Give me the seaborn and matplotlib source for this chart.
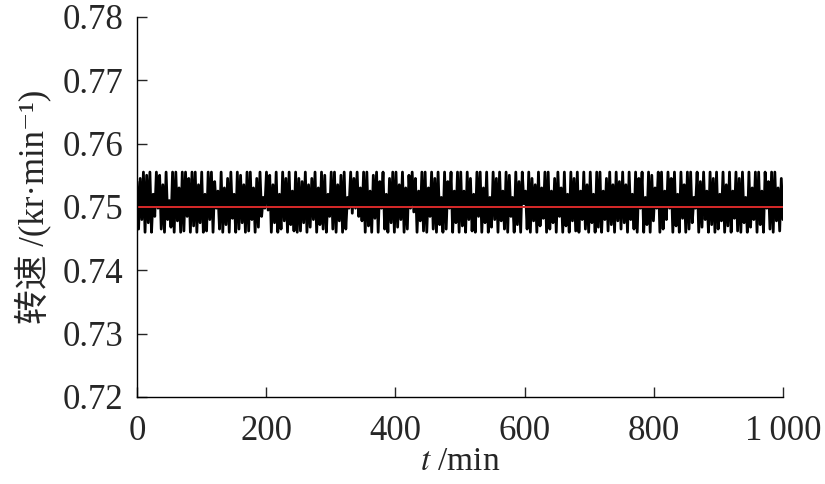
import numpy as np
import pandas as pd
import matplotlib
matplotlib.use("Agg")
import matplotlib.pyplot as plt
from matplotlib.ticker import FuncFormatter
import seaborn as sns

speed_hi = [
    0.754, 0.7545, 0.7555, 0.755, 0.7555, 0.752, 0.7555, 0.755, 0.7535, 0.7555,
    0.751, 0.7555, 0.7555, 0.753, 0.7555, 0.7555, 0.7545, 0.7555, 0.7555, 0.7535,
    0.7555, 0.752, 0.7555, 0.7555, 0.754, 0.7525, 0.7555, 0.753, 0.7545, 0.7555,
    0.752, 0.7555, 0.755, 0.7535, 0.7555, 0.7555, 0.753, 0.7545, 0.7555, 0.7515,
    0.7555, 0.755, 0.7535, 0.7555, 0.752, 0.7555, 0.7545, 0.7555, 0.7525, 0.7555,
    0.7545, 0.754, 0.7555, 0.7535, 0.7545, 0.7555, 0.753, 0.7555, 0.755, 0.752,
    0.7555, 0.7555, 0.7535, 0.755, 0.7555, 0.7515, 0.7555, 0.7545, 0.7555, 0.753,
    0.7555, 0.7555, 0.7525, 0.755, 0.7555, 0.754, 0.7555, 0.752, 0.7545, 0.7555,
    0.7555, 0.7535, 0.7555, 0.753, 0.755, 0.7555, 0.7545, 0.7525, 0.7555, 0.7555,
    0.753, 0.7555, 0.7545, 0.7555, 0.7515, 0.7555, 0.754, 0.7555, 0.7525, 0.7555,
    0.7555, 0.7525, 0.7555, 0.7545, 0.752, 0.7555, 0.7555, 0.753, 0.7555, 0.7515,
    0.7555, 0.7545, 0.7555, 0.7525, 0.7555, 0.755, 0.7515, 0.7555, 0.754, 0.7555,
    0.7525, 0.7555, 0.7545, 0.7535, 0.7555, 0.753, 0.7555, 0.7555, 0.7525, 0.7545,
    0.7555, 0.753, 0.7555, 0.752, 0.7555, 0.7545, 0.7555, 0.7525, 0.7555, 0.7535,
    0.7555, 0.752, 0.7555, 0.7555, 0.7525, 0.7545, 0.7555, 0.7535, 0.7555, 0.754,
    0.7555, 0.7535, 0.7555, 0.752, 0.7555, 0.7545, 0.7555, 0.7515, 0.7555, 0.755,
    0.753, 0.7555, 0.7555, 0.7525, 0.7555, 0.7545, 0.7555, 0.752, 0.7555, 0.7535,
    0.7555, 0.7555, 0.7515, 0.7555, 0.754, 0.7555, 0.7525, 0.7555, 0.7545, 0.7555,
    0.752, 0.7555, 0.7535, 0.7555, 0.7525, 0.7555, 0.7545, 0.7555, 0.7515, 0.7555,
    0.753, 0.7555, 0.7555, 0.7525, 0.7555, 0.754, 0.7555, 0.7555, 0.753, 0.7545,
]
speed_lo = [
    0.7465, 0.748, 0.746, 0.7475, 0.746, 0.7485, 0.7498, 0.7465, 0.746, 0.748,
    0.7468, 0.746, 0.7478, 0.746, 0.7462, 0.7485, 0.746, 0.747, 0.746, 0.7475,
    0.746, 0.7462, 0.748, 0.746, 0.7498, 0.7465, 0.746, 0.7472, 0.746, 0.7482,
    0.746, 0.7465, 0.7475, 0.746, 0.7462, 0.748, 0.746, 0.7468, 0.7485, 0.7498,
    0.7495, 0.746, 0.7475, 0.746, 0.7465, 0.7478, 0.746, 0.7472, 0.7462, 0.746,
    0.7462, 0.7475, 0.746, 0.7468, 0.748, 0.746, 0.7472, 0.7465, 0.746, 0.7485,
    0.7465, 0.746, 0.7478, 0.746, 0.7465, 0.7498, 0.749, 0.7498, 0.7485, 0.7478,
    0.746, 0.747, 0.746, 0.7482, 0.746, 0.7498, 0.7465, 0.746, 0.7475, 0.746,
    0.7468, 0.748, 0.746, 0.7465, 0.7498, 0.7492, 0.746, 0.7478, 0.7462, 0.746,
    0.7485, 0.7465, 0.746, 0.7472, 0.746, 0.7465, 0.7498, 0.746, 0.7475, 0.746,
    0.747, 0.746, 0.748, 0.7462, 0.746, 0.7485, 0.746, 0.7475, 0.746, 0.7468,
    0.748, 0.746, 0.7478, 0.7465, 0.746, 0.7485, 0.746, 0.7472, 0.746, 0.7505,
    0.7465, 0.746, 0.7478, 0.746, 0.747, 0.7482, 0.746, 0.7465, 0.7475, 0.746,
    0.7485, 0.746, 0.747, 0.746, 0.7478, 0.7462, 0.746, 0.748, 0.7465, 0.746,
    0.7475, 0.746, 0.7468, 0.746, 0.748, 0.7462, 0.7472, 0.746, 0.7478, 0.7465,
    0.7475, 0.746, 0.748, 0.7465, 0.746, 0.7498, 0.746, 0.7472, 0.746, 0.7478,
    0.7498, 0.746, 0.7465, 0.748, 0.7498, 0.746, 0.747, 0.746, 0.7482, 0.746,
    0.7465, 0.7475, 0.7498, 0.746, 0.7468, 0.748, 0.746, 0.7472, 0.746, 0.7465,
    0.7478, 0.746, 0.747, 0.746, 0.7482, 0.7462, 0.746, 0.7475, 0.746, 0.7468,
    0.748, 0.746, 0.7472, 0.746, 0.7498, 0.7465, 0.746, 0.7478, 0.7462, 0.748,
]
speed_ref = 0.750          # reference speed (red line)
t_range = (0, 1000)        # min

x_ticks = [0, 200, 400, 600, 800, 1000]
y_ticks = [0.72, 0.73, 0.74, 0.75, 0.76, 0.77, 0.78]

# interleave envelope samples -> measured trace
n = min(len(speed_hi), len(speed_lo))
speed = np.empty(2 * n)
speed[0::2] = speed_hi[:n]
speed[1::2] = speed_lo[:n]
df = pd.DataFrame({"t": np.linspace(t_range[0], t_range[1], 2 * n), "speed": speed})
ref = pd.DataFrame({"t": list(t_range), "speed": [speed_ref, speed_ref]})

sns.set_style("ticks")
plt.rcParams["font.family"] = ["Liberation Serif", "Noto Sans CJK SC", "DejaVu Serif"]
plt.rcParams["mathtext.fontset"] = "stix"

fig = plt.figure(figsize=(8.25, 4.84), dpi=100)
ax = fig.add_axes([0.166, 0.180, 0.783, 0.785])

sns.lineplot(data=df, x="t", y="speed", color="black", linewidth=2.0,
             estimator=None, sort=False, ax=ax)
sns.lineplot(data=ref, x="t", y="speed", color="#d82a2a", linewidth=1.4,
             estimator=None, ax=ax)

ax.set_xlim(*t_range)
ax.set_ylim(y_ticks[0], y_ticks[-1])
ax.set_xticks(x_ticks)
ax.set_yticks(y_ticks)
ax.xaxis.set_major_formatter(FuncFormatter(
    lambda v, p: f"{int(v):,}".replace(",", "\u2009")))
ax.yaxis.set_major_formatter(FuncFormatter(lambda v, p: f"{v:.2f}"))
ax.tick_params(direction="in", length=7, width=1.0, labelsize=25)
ax.tick_params(axis="y", pad=10)
ax.tick_params(axis="x", pad=13)

for side in ["top", "right"]:
    ax.spines[side].set_visible(False)
for side in ["left", "bottom"]:
    ax.spines[side].set_linewidth(1.0)
    ax.spines[side].set_color("black")

ax.set_xlabel("$t$ /min", fontsize=24, labelpad=-1)
ax.set_ylabel("转速 /(kr·min⁻¹)", fontsize=25, labelpad=8)

fig.savefig("out.png", dpi=100)
